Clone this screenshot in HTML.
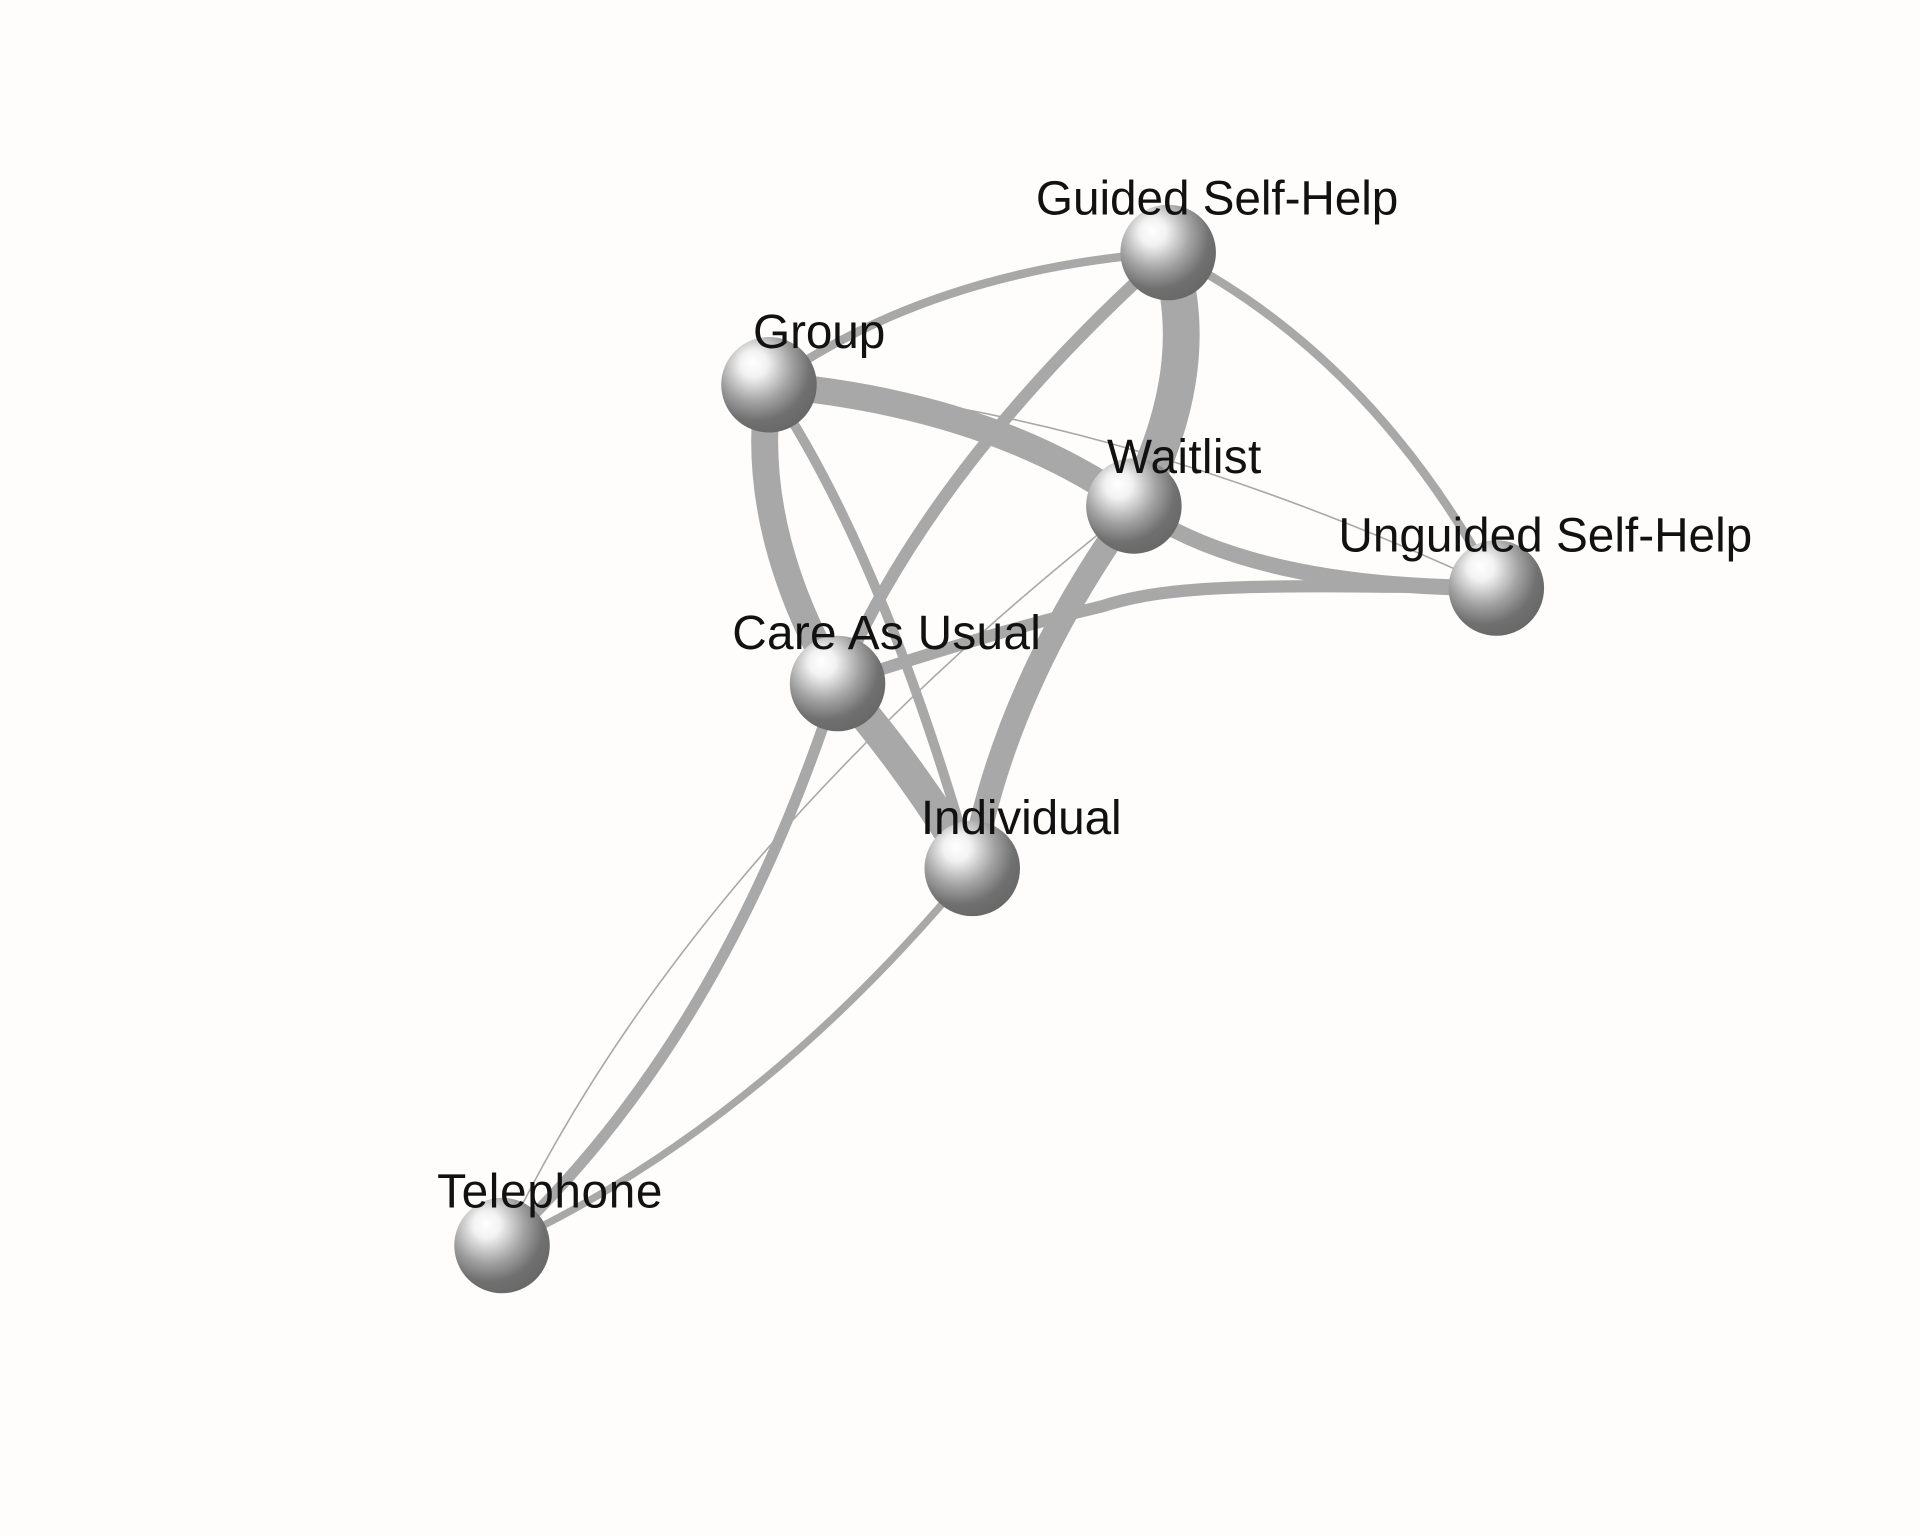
<!DOCTYPE html>
<html><head><style>
html,body{margin:0;padding:0;background:#fefdfb;}
svg{display:block;}
text{font-family:"Liberation Sans",Arial,sans-serif;font-size:39px;fill:#111;}
</style></head><body>
<svg width="1920" height="1536" viewBox="0 0 1568 1254" xmlns="http://www.w3.org/2000/svg">
<defs>
<radialGradient id="g" cx="0.38" cy="0.33" r="0.7" fx="0.33" fy="0.27">
<stop offset="0" stop-color="#ffffff"/>
<stop offset="0.2" stop-color="#f2f2f2"/>
<stop offset="0.55" stop-color="#a0a0a0"/>
<stop offset="0.8" stop-color="#707070"/>
<stop offset="1" stop-color="#686868"/>
</radialGradient>
</defs>
<rect width="1568" height="1254" fill="#fefdfb"/>
<g fill="none" stroke="#a8a8a8" stroke-linecap="butt">
<path d="M628,314 Q760,220 954,206" stroke-width="7"/>
<path d="M954,206 Q985,300 926,413" stroke-width="30"/>
<path d="M954,206 Q1120,290 1222,480" stroke-width="7"/>
<path d="M954,206 Q760,380 684,558" stroke-width="10"/>
<path d="M628,314 Q810,330 926,413" stroke-width="22"/>
<path d="M628,314 Q900,330 1222,480" stroke-width="1.3"/>
<path d="M628,314 Q610,430 684,558" stroke-width="22"/>
<path d="M628,314 Q720,450 794,709" stroke-width="8"/>
<path d="M926,413 Q1020,480 1222,480" stroke-width="13"/>
<path d="M926,413 Q820,560 794,709" stroke-width="20"/>
<path d="M684,558 C830,510 880,500 900,495 C960,475 1050,478 1222,480" stroke-width="10"/>
<path d="M684,558 Q740,620 794,709" stroke-width="26"/>
<path d="M684,558 Q590,850 410,1017" stroke-width="9"/>
<path d="M926,413 Q560,700 410,1017" stroke-width="1.3"/>
<path d="M794,709 Q620,920 410,1017" stroke-width="6"/>
</g>
<g>
<circle cx="954" cy="206" r="39" fill="url(#g)"/>
<circle cx="628" cy="314" r="39" fill="url(#g)"/>
<circle cx="926" cy="413" r="39" fill="url(#g)"/>
<circle cx="1222" cy="480" r="39" fill="url(#g)"/>
<circle cx="684" cy="558" r="39" fill="url(#g)"/>
<circle cx="794" cy="709" r="39" fill="url(#g)"/>
<circle cx="410" cy="1017" r="39" fill="url(#g)"/>
</g>
<text x="846" y="175" textLength="296">Guided Self-Help</text>
<text x="615" y="284" textLength="108">Group</text>
<text x="904" y="386" textLength="126">Waitlist</text>
<text x="1093" y="450" textLength="338">Unguided Self-Help</text>
<text x="598" y="530" textLength="252">Care As Usual</text>
<text x="752" y="681" textLength="164">Individual</text>
<text x="357" y="986" textLength="184">Telephone</text>
</svg>
</body></html>
